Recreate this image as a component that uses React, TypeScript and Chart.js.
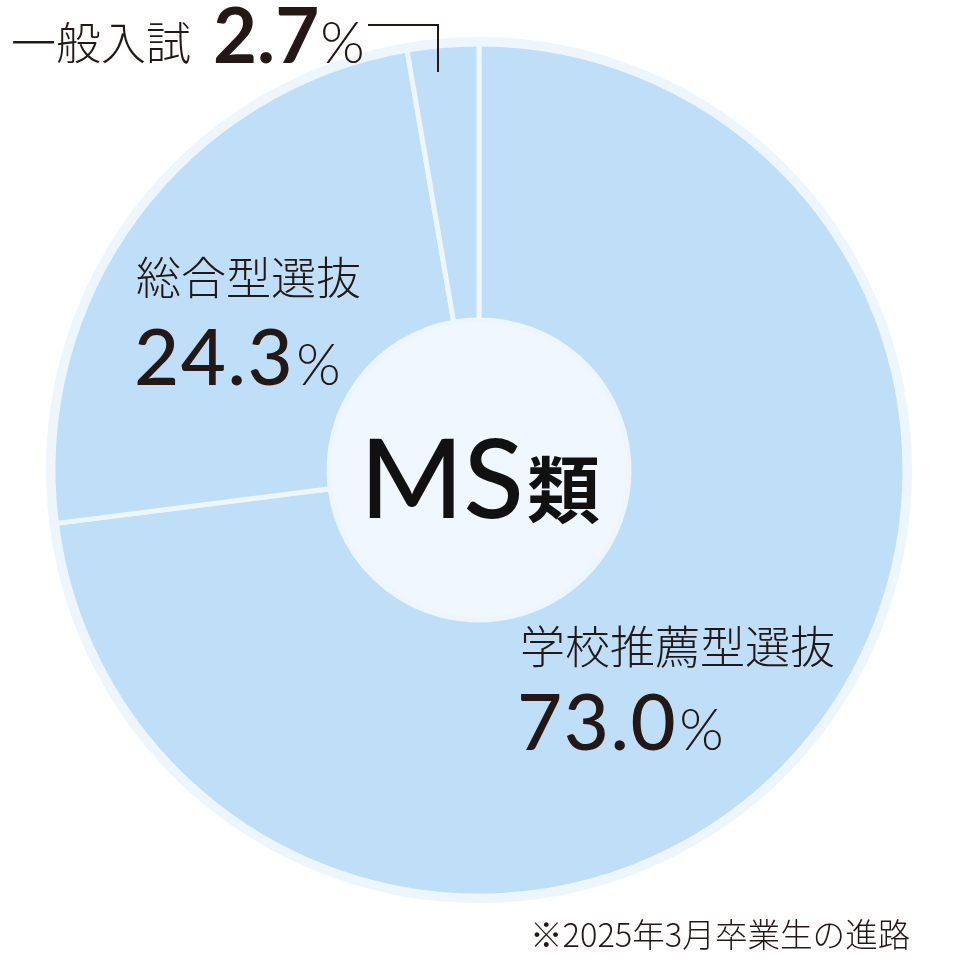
import { useEffect, useRef } from "react";
import { Chart, DoughnutController, ArcElement } from "chart.js";

Chart.register(DoughnutController, ArcElement);

// data
const categories = ["学校推薦型選抜", "総合型選抜", "一般入試"];
const shares = [73.0, 24.3, 2.7];
const shareLabels = ["73.0", "24.3", "2.7"];
const centerTitle = "MS";
const centerSuffix = "類";
const footnote = "※2025年3月卒業生の進路";

const FILL = "#bedff7";
const RING = "#edf5fd";
const CENTER = "#f1f7fe";
const INK = "#231815";
const JP = '"Noto Sans CJK JP", "Noto Sans", sans-serif';
const NUM = 'Lato, "Noto Sans", sans-serif';

export default function App() {
  const canvasRef = useRef<HTMLCanvasElement | null>(null);
  const chartRef = useRef<Chart | null>(null);

  useEffect(() => {
    if (!canvasRef.current) return;
    chartRef.current?.destroy();
    chartRef.current = new Chart(canvasRef.current, {
      type: "doughnut",
      data: {
        labels: categories,
        datasets: [
          // outer pale ring
          {
            data: [100],
            backgroundColor: RING,
            borderWidth: 0,
            hoverBorderWidth: 0,
            weight: 7,
          },
          {
            data: shares,
            backgroundColor: FILL,
            borderColor: RING,
            borderWidth: 5,
            hoverBorderWidth: 5,
            weight: 276,
          },
          // centre disc
          {
            data: [100],
            backgroundColor: CENTER,
            borderWidth: 0,
            hoverBorderWidth: 0,
            weight: 150,
          },
        ],
      },
      options: {
        responsive: false,
        animation: false,
        devicePixelRatio: 1,
        cutout: 0,
        hoverOffset: 0,
        events: [],
        layout: { padding: { left: 46, right: 48, top: 37, bottom: 57 } },
        plugins: { legend: { display: false }, tooltip: { enabled: false } },
      },
    });
    return () => {
      chartRef.current?.destroy();
      chartRef.current = null;
    };
  }, []);

  return (
    <div style={{ position: "absolute", left: 0, top: 0, width: 960, height: 960, background: "#fff" }}>
      <canvas ref={canvasRef} width={960} height={960} style={{ position: "absolute", left: 0, top: 0 }} />
      <svg width={960} height={960} style={{ position: "absolute", left: 0, top: 0 }}>
        <path d="M368 25 H438 V72" fill="none" stroke={INK} strokeWidth={2} />
        <text x={11} y={60} fill={INK} fontFamily={JP} fontWeight={300} fontSize={45}>
          {categories[2]}
        </text>
        <text x={213} y={63} fill={INK} fontFamily={NUM}>
          <tspan fontWeight={700} fontSize={76}>{shareLabels[2]}</tspan>
          <tspan fontWeight={300} fontSize={57} dx={1}>%</tspan>
        </text>

        <text x={136} y={295} fill={INK} fontFamily={JP} fontWeight={300} fontSize={45}>
          {categories[1]}
        </text>
        <text x={134} y={385} fill={INK} fontFamily={NUM}>
          <tspan fontWeight={500} fontSize={78} letterSpacing={1.5}>{shareLabels[1]}</tspan>
          <tspan fontWeight={300} fontSize={57} dx={2}>%</tspan>
        </text>

        <text x={520} y={664} fill={INK} fontFamily={JP} fontWeight={300} fontSize={45}>
          {categories[0]}
        </text>
        <text x={517} y={750} fill={INK} fontFamily={NUM}>
          <tspan fontWeight={500} fontSize={78} letterSpacing={1.5}>{shareLabels[0]}</tspan>
          <tspan fontWeight={300} fontSize={57} dx={2}>%</tspan>
        </text>

        <text x={360} y={518} fill="#111" fontFamily={NUM}>
          <tspan fontWeight={500} fontSize={111}>{centerTitle}</tspan>
          <tspan fontFamily={JP} fontWeight={700} fontSize={73} dx={3} dy={-1}>{centerSuffix}</tspan>
        </text>

        <text x={530} y={947} fill={INK} fontFamily={JP} fontWeight={300} fontSize={32.6}>
          {footnote}
        </text>
      </svg>
    </div>
  );
}
